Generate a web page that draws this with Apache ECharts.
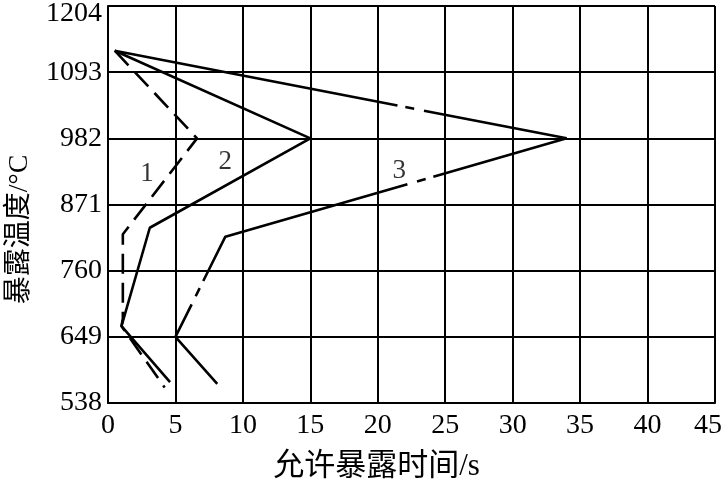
<!DOCTYPE html>
<html>
<head>
<meta charset="utf-8">
<script src="https://cdn.jsdelivr.net/npm/echarts@6/dist/echarts.min.js"></script>
<style>
  html, body { margin: 0; padding: 0; background: #fff; }
  #chart { width: 722px; height: 483px; }
</style>
</head>
<body>
<div id="chart"></div>
<script>
// 允许暴露时间 (s) vs 暴露温度 (°C), curves 1/2/3
const yTicks = [538, 649, 760, 871, 982, 1093, 1204]

const curve1Time = [0.5, 6.6, 1.1, 1.1, 1.0, 4.2]
const curve1Temp = [1129, 982, 821, 680, 667, 564]

const curve2Time = [0.5, 15, 3.1, 1.0, 4.6]
const curve2Temp = [1129, 982, 832, 667, 573]

const curve3Time = [0.5, 34, 8.7, 5, 8.1]
const curve3Temp = [1129, 982, 817, 649, 570]

const curveNames = ['1', '2', '3']
const labelTime = [2.9, 8.7, 21.6]
const labelTemp = [922, 943, 927]

// y ticks are evenly spaced but 538 is not a multiple of 111,
// so plot temperatures in tick units and label with yTicks
const toY = (t) => (t - yTicks[0]) / (yTicks[1] - yTicks[0])
const pair = (xs, ys) => xs.map((x, i) => [x, toY(ys[i])])

const font = '"Liberation Serif", "Noto Sans CJK SC", serif'

const chart = echarts.init(document.getElementById('chart'))
const option = {
  animation: false,
  grid: { left: 108, right: 7, top: 6, bottom: 80, outerBoundsMode: 'none' },
  xAxis: {
    type: 'value',
    min: 0,
    max: 45,
    interval: 5,
    name: '允许暴露时间/s',
    nameLocation: 'middle',
    nameGap: 48,
    nameTextStyle: { color: '#000', fontSize: 31, fontFamily: font, padding: [0, 70, 0, 0] },
    axisLine: { lineStyle: { color: '#000', width: 2 } },
    axisTick: { show: false },
    axisLabel: {
      color: '#000',
      fontSize: 28,
      fontFamily: font,
      margin: 9,
      // last label sits a little inside the right edge
      formatter: (v) => (v === 45 ? '{last|' + v + '}' : '' + v),
      rich: { last: { fontSize: 28, fontFamily: font, color: '#000', padding: [0, 14, 0, 0] } },
    },
    splitLine: { show: true, lineStyle: { color: '#000', width: 2 } },
  },
  yAxis: {
    type: 'value',
    min: 0,
    max: yTicks.length - 1,
    interval: 1,
    name: '暴露温度/°C',
    nameLocation: 'middle',
    nameGap: 74,
    nameTextStyle: { color: '#000', fontSize: 28, fontFamily: font, padding: [0, 50, 0, 0] },
    axisLine: { lineStyle: { color: '#000', width: 2 } },
    axisTick: { show: false },
    axisLabel: {
      color: '#000',
      fontSize: 28,
      fontFamily: font,
      margin: 6,
      // top label is pushed down so it is not cut off
      formatter: (v) => (v === yTicks.length - 1 ? '{top|' + yTicks[v] + '}' : '' + yTicks[v]),
      rich: { top: { fontSize: 28, fontFamily: font, color: '#000', padding: [15, 0, 0, 0] } },
    },
    splitLine: { show: true, lineStyle: { color: '#000', width: 2 } },
  },
  series: [
    {
      name: '1',
      type: 'line',
      data: pair(curve1Time, curve1Temp),
      symbol: 'none',
      lineStyle: { color: '#000', width: 2.6, type: [20, 9] },
    },
    {
      name: '2',
      type: 'line',
      data: pair(curve2Time, curve2Temp),
      symbol: 'none',
      lineStyle: { color: '#000', width: 2.6, type: 'solid' },
    },
    {
      name: '3',
      type: 'line',
      data: pair(curve3Time, curve3Temp),
      symbol: 'none',
      // long dash-dot: only a few breaks along the curve, as drawn
      lineStyle: {
        color: '#000',
        width: 2.6,
        type: [288, 8, 9, 10, 284, 8, 9, 10, 239, 8, 9, 9, 600, 10],
      },
    },
    {
      type: 'scatter',
      data: pair(labelTime, labelTemp),
      symbolSize: 0,
      silent: true,
      label: {
        show: true,
        position: 'inside',
        color: '#000',
        fontSize: 27,
        fontFamily: font,
        formatter: (p) => curveNames[p.dataIndex],
      },
    },
  ],
}
chart.setOption(option)
</script>
</body>
</html>
